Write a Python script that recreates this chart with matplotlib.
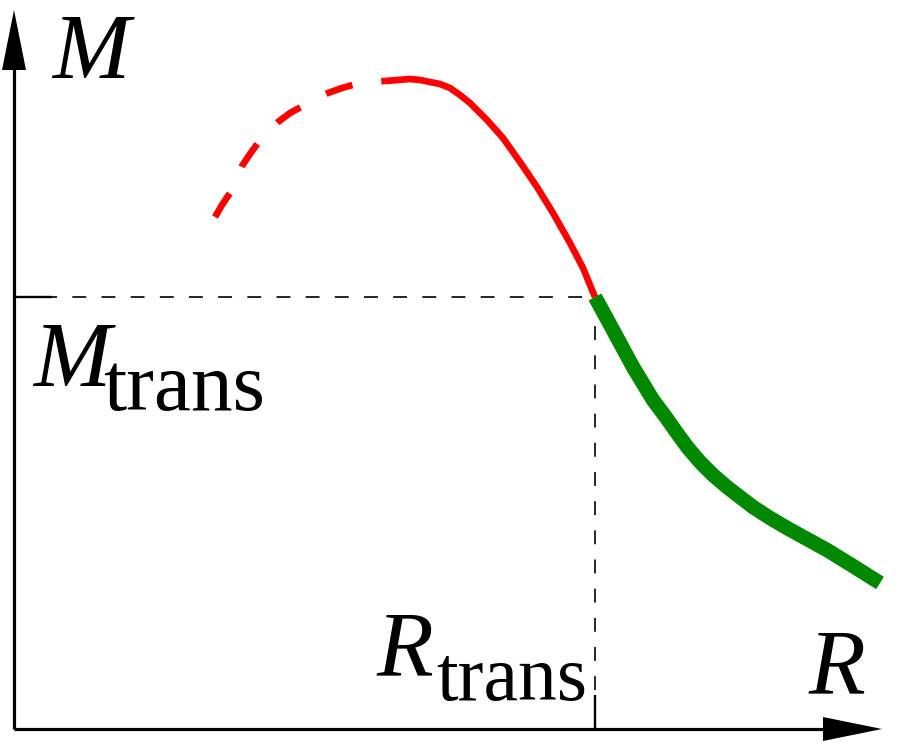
import matplotlib
matplotlib.use('Agg')
import matplotlib.pyplot as plt

# curve data (R, M) in drawing units
r_dash = [215, 222, 230, 236, 242, 250, 258, 268, 278, 290, 303, 315, 328, 342, 356, 370, 385]
m_dash = [530, 542, 554, 567, 581, 593, 604, 615, 625, 634, 641, 648, 654, 659, 663, 665, 666]
r_red = [385, 398, 410, 420, 430, 440, 450, 460, 470, 487, 503, 520, 537, 553, 570, 583, 595]
m_red = [666, 667, 668, 667, 665, 663, 659, 652, 644, 627, 609, 585, 560, 534, 504, 479, 450]
r_green = [595, 613, 633, 653, 665, 677, 688, 700, 713, 727, 740, 753, 770, 787, 807, 827, 853, 880]
m_green = [450, 417, 380, 347, 331, 314, 299, 285, 272, 260, 250, 240, 229, 219, 208, 197, 181, 164]

r_trans = 595
m_trans = 450
origin = (14, 18)
r_end = 882
m_end = 737

plt.rcParams['lines.scale_dashes'] = False
fig = plt.figure(figsize=(9, 7.47), dpi=100)
ax = fig.add_axes([0, 0, 1, 1])
ax.set_xlim(0, 900)
ax.set_ylim(0, 747)
ax.axis('off')

# axes with arrow heads
ax.plot([origin[0], r_end - 40], [origin[1], origin[1]], color='black', lw=2.3, solid_capstyle='butt')
ax.plot([origin[0], origin[0]], [origin[1], m_end - 40], color='black', lw=2.3, solid_capstyle='butt')
ax.fill([r_end, r_end - 59, r_end - 59], [origin[1], origin[1] + 12, origin[1] - 12], color='black', lw=0)
ax.fill([origin[0], origin[0] - 12, origin[0] + 12], [m_end, m_end - 60, m_end - 60], color='black', lw=0)

# transition guide lines
ax.plot([origin[0], r_trans], [m_trans, m_trans], color='black', lw=1.2, dashes=(10, 11))
ax.plot([r_trans, r_trans], [m_trans, origin[1]], color='black', lw=1.2, dashes=(10, 11))
ax.plot([origin[0], 52], [m_trans, m_trans], color='black', lw=1.7, solid_capstyle='butt')
ax.plot([r_trans, r_trans], [origin[1], 52], color='black', lw=1.7, solid_capstyle='butt')

# curves
ax.plot(r_dash, m_dash, color='red', lw=4.8, dashes=(20, 21), dash_capstyle='butt', dash_joinstyle='round')
ax.plot(r_red, m_red, color='red', lw=4.8, solid_capstyle='butt', solid_joinstyle='round')
ax.plot(r_green, m_green, color='#008800', lw=10.5, solid_capstyle='butt', solid_joinstyle='round')

# labels
ax.text(52, 669, 'M', family='Liberation Serif', style='italic', fontsize=67, ha='left', va='baseline')
ax.text(808, 54, 'R', family='Liberation Serif', style='italic', fontsize=67, ha='left', va='baseline')
ax.text(33, 361, 'M', family='Liberation Serif', style='italic', fontsize=67, ha='left', va='baseline')
ax.text(103, 337, 'trans', family='Liberation Serif', fontsize=60, ha='left', va='baseline')
ax.text(376, 72, 'R', family='Liberation Serif', style='italic', fontsize=67, ha='left', va='baseline')
ax.text(436, 47, 'trans', family='Liberation Serif', fontsize=56, ha='left', va='baseline')

fig.savefig('out.png', dpi=100)
